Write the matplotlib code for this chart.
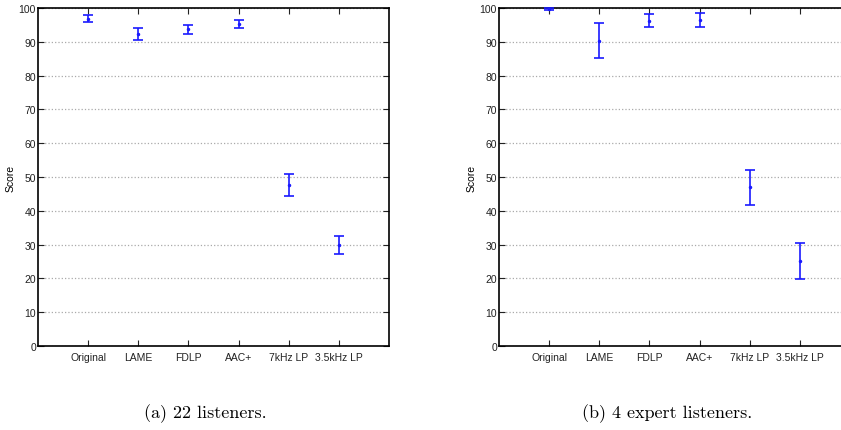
import numpy as np
import matplotlib.pyplot as plt
from matplotlib import font_manager

# systems under test
systems = ['Original', 'LAME', 'FDLP', 'AAC+', '7kHz LP', '3.5kHz LP']

# (a) 22 listeners
mean_a = [96.8, 92.4, 93.8, 95.4, 47.6, 29.9]
low_a = [95.8, 90.4, 92.4, 94.1, 44.4, 27.1]
high_a = [97.9, 94.1, 95.1, 96.5, 50.9, 32.6]

# (b) 4 expert listeners
mean_b = [99.7, 90.3, 96.2, 96.4, 47.0, 25.1]
low_b = [99.3, 85.3, 94.3, 94.5, 41.8, 19.9]
high_b = [100.0, 95.5, 98.1, 98.6, 52.2, 30.4]

names = {f.name for f in font_manager.fontManager.ttflist}
sans = 'Liberation Sans Narrow' if 'Liberation Sans Narrow' in names else 'Liberation Sans'
plt.rcParams['font.family'] = [sans, 'DejaVu Sans']

fig = plt.figure(figsize=(8.41, 4.31), dpi=100)

def panel(rect, mean, low, high, caption, cap_x):
    ax = fig.add_axes(rect)
    x = np.arange(1, len(systems) + 1)
    mean = np.array(mean)
    yerr = [mean - np.array(low), np.array(high) - mean]
    ax.errorbar(x, mean, yerr=yerr, fmt='.', color='#1a1aff', ecolor='#1a1aff',
                markersize=3, elinewidth=1.2, capsize=3.5, capthick=1.2,
                clip_on=False, zorder=3)
    ax.set_xlim(0, 7)
    ax.set_ylim(0, 100)
    ax.set_xticks(x)
    ax.set_xticklabels(systems)
    ax.set_yticks(np.arange(0, 101, 10))
    ax.tick_params(direction='in', length=4, width=0.8, labelsize=7.5,
                   top=True, right=True, colors='#222222')
    ax.tick_params(axis='y', pad=1.5)
    ax.tick_params(axis='x', pad=4)
    ax.yaxis.grid(True, linestyle=':', color='#aaaaaa', linewidth=0.9)
    ax.set_axisbelow(True)
    for s in ax.spines.values():
        s.set_linewidth(1.2)
    ax.set_ylabel('Score', fontsize=7.5, labelpad=2)
    fig.text(cap_x, 0.04, caption, ha='center', va='center',
             family='cmr10', fontsize=13)
    return ax

panel([0.0452, 0.1949, 0.4174, 0.7842], mean_a, low_a, high_a,
      '(a) 22 listeners.', 205 / 841)
panel([0.5933, 0.1949, 0.4174, 0.7842], mean_b, low_b, high_b,
      '(b) 4 expert listeners.', 667 / 841)

fig.savefig('out.png', dpi=100)
